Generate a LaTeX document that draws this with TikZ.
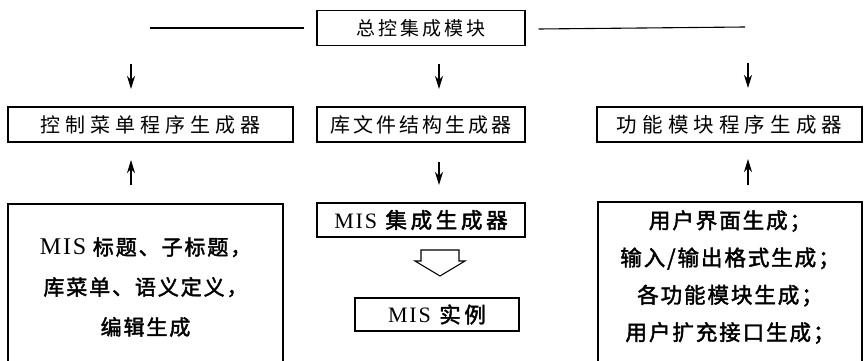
\documentclass[tikz,border=0pt]{standalone}
\usepackage{fontspec}
\setmainfont{Liberation Serif}
\newfontfamily\cjka[LetterSpace=15]{Noto Sans CJK SC}
\newfontfamily\cjkb[LetterSpace=25]{Noto Sans CJK SC}
\newfontfamily\cjkc[LetterSpace=9,FakeBold=2]{Noto Sans CJK SC}
\newfontfamily\cjkd[LetterSpace=17,FakeBold=2]{Noto Sans CJK SC}
\newfontfamily\lat[LetterSpace=8]{Liberation Serif}
\usetikzlibrary{arrows.meta}
\begin{document}
\begin{tikzpicture}[x=1pt,y=-1pt,
  box/.style={draw,line width=1.1pt,minimum height=35pt,inner sep=0pt},
  arr/.style={-{Stealth[length=13pt,width=8pt,inset=4pt]},line width=1.3pt},
  edge/.style={line width=1.1pt}]
\useasboundingbox (0,0) rectangle (867,361);
% top
\node[box,minimum width=208pt,font=\cjka\fontsize{19}{20}\selectfont] (top) at (421,28) {总控集成模块};
\coordinate (ll) at (150,28);
\coordinate (rl) at (745,27);
\draw[edge] ([xshift=-12pt]top.west) -- (ll);
\draw[edge] ([xshift=13pt,yshift=-1pt]top.east) -- (rl);
% arrows down
\coordinate (d1s) at (131,64); \coordinate (d1e) at (131,89);
\coordinate (d2s) at (439,64); \coordinate (d2e) at (439,89);
\coordinate (d3s) at (748,63); \coordinate (d3e) at (748,88);
\draw[arr] (d1s) -- (d1e);
\draw[arr] (d2s) -- (d2e);
\draw[arr] (d3s) -- (d3e);
% row 2
\node[box,minimum width=285pt,font=\cjkb\fontsize{20}{20}\selectfont] (ctl) at (150.5,124.5) {控制菜单程序生成器};
\node[box,minimum width=208pt,font=\cjka\fontsize{20}{20}\selectfont] (lib) at (421,124.5) {库文件结构生成器};
\node[box,minimum width=265pt,font=\cjkb\fontsize{20.5}{20}\selectfont] (fun) at (729.5,124.5) {功能模块程序生成器};
% arrows row 2 -> 3
\coordinate (u1s) at (131,185); \coordinate (u1e) at (131,160);
\coordinate (m1s) at (439,162); \coordinate (m1e) at (439,185);
\coordinate (u3s) at (748,185); \coordinate (u3e) at (748,159);
\draw[arr] (u1s) -- (u1e);
\draw[arr] (m1s) -- (m1e);
\draw[arr] (u3s) -- (u3e);
% bottom left
\node[align=center,font=\cjkc\fontsize{21}{40}\selectfont] (gen) at (145.5,287)
  {{\lat\fontsize{24}{40}\selectfont MIS} 标题、子标题，\\库菜单、语义定义，\\编辑生成};
\draw[edge] (8,370) -- (8,204) -- (283,204) -- (283,370);
% bottom right
\node[align=center,font=\cjkc\fontsize{21.5}{37.3}\selectfont] (ui) at (730,277)
  {用户界面生成；\\输入/输出格式生成；\\各功能模块生成；\\用户扩充接口生成；};
\draw[edge] (598,370) -- (598,202) -- (862,202) -- (862,370);
% middle
\node[box,minimum width=208pt,minimum height=34pt,font=\cjkd\fontsize{21.5}{20}\selectfont] (mis) at (421,220)
  {{\lat\fontsize{22}{20}\selectfont MIS} 集成生成器};
\draw[edge] (421,250) -- (459,250) -- (459,261) -- (465,261) -- (440,276) -- (415,261) -- (421,261) -- cycle;
\node[box,minimum width=164pt,minimum height=33pt,font=\cjkd\fontsize{21.5}{20}\selectfont] (inst) at (437,314.5)
  {{\lat\fontsize{22}{20}\selectfont MIS} 实例};
\end{tikzpicture}
\end{document}
